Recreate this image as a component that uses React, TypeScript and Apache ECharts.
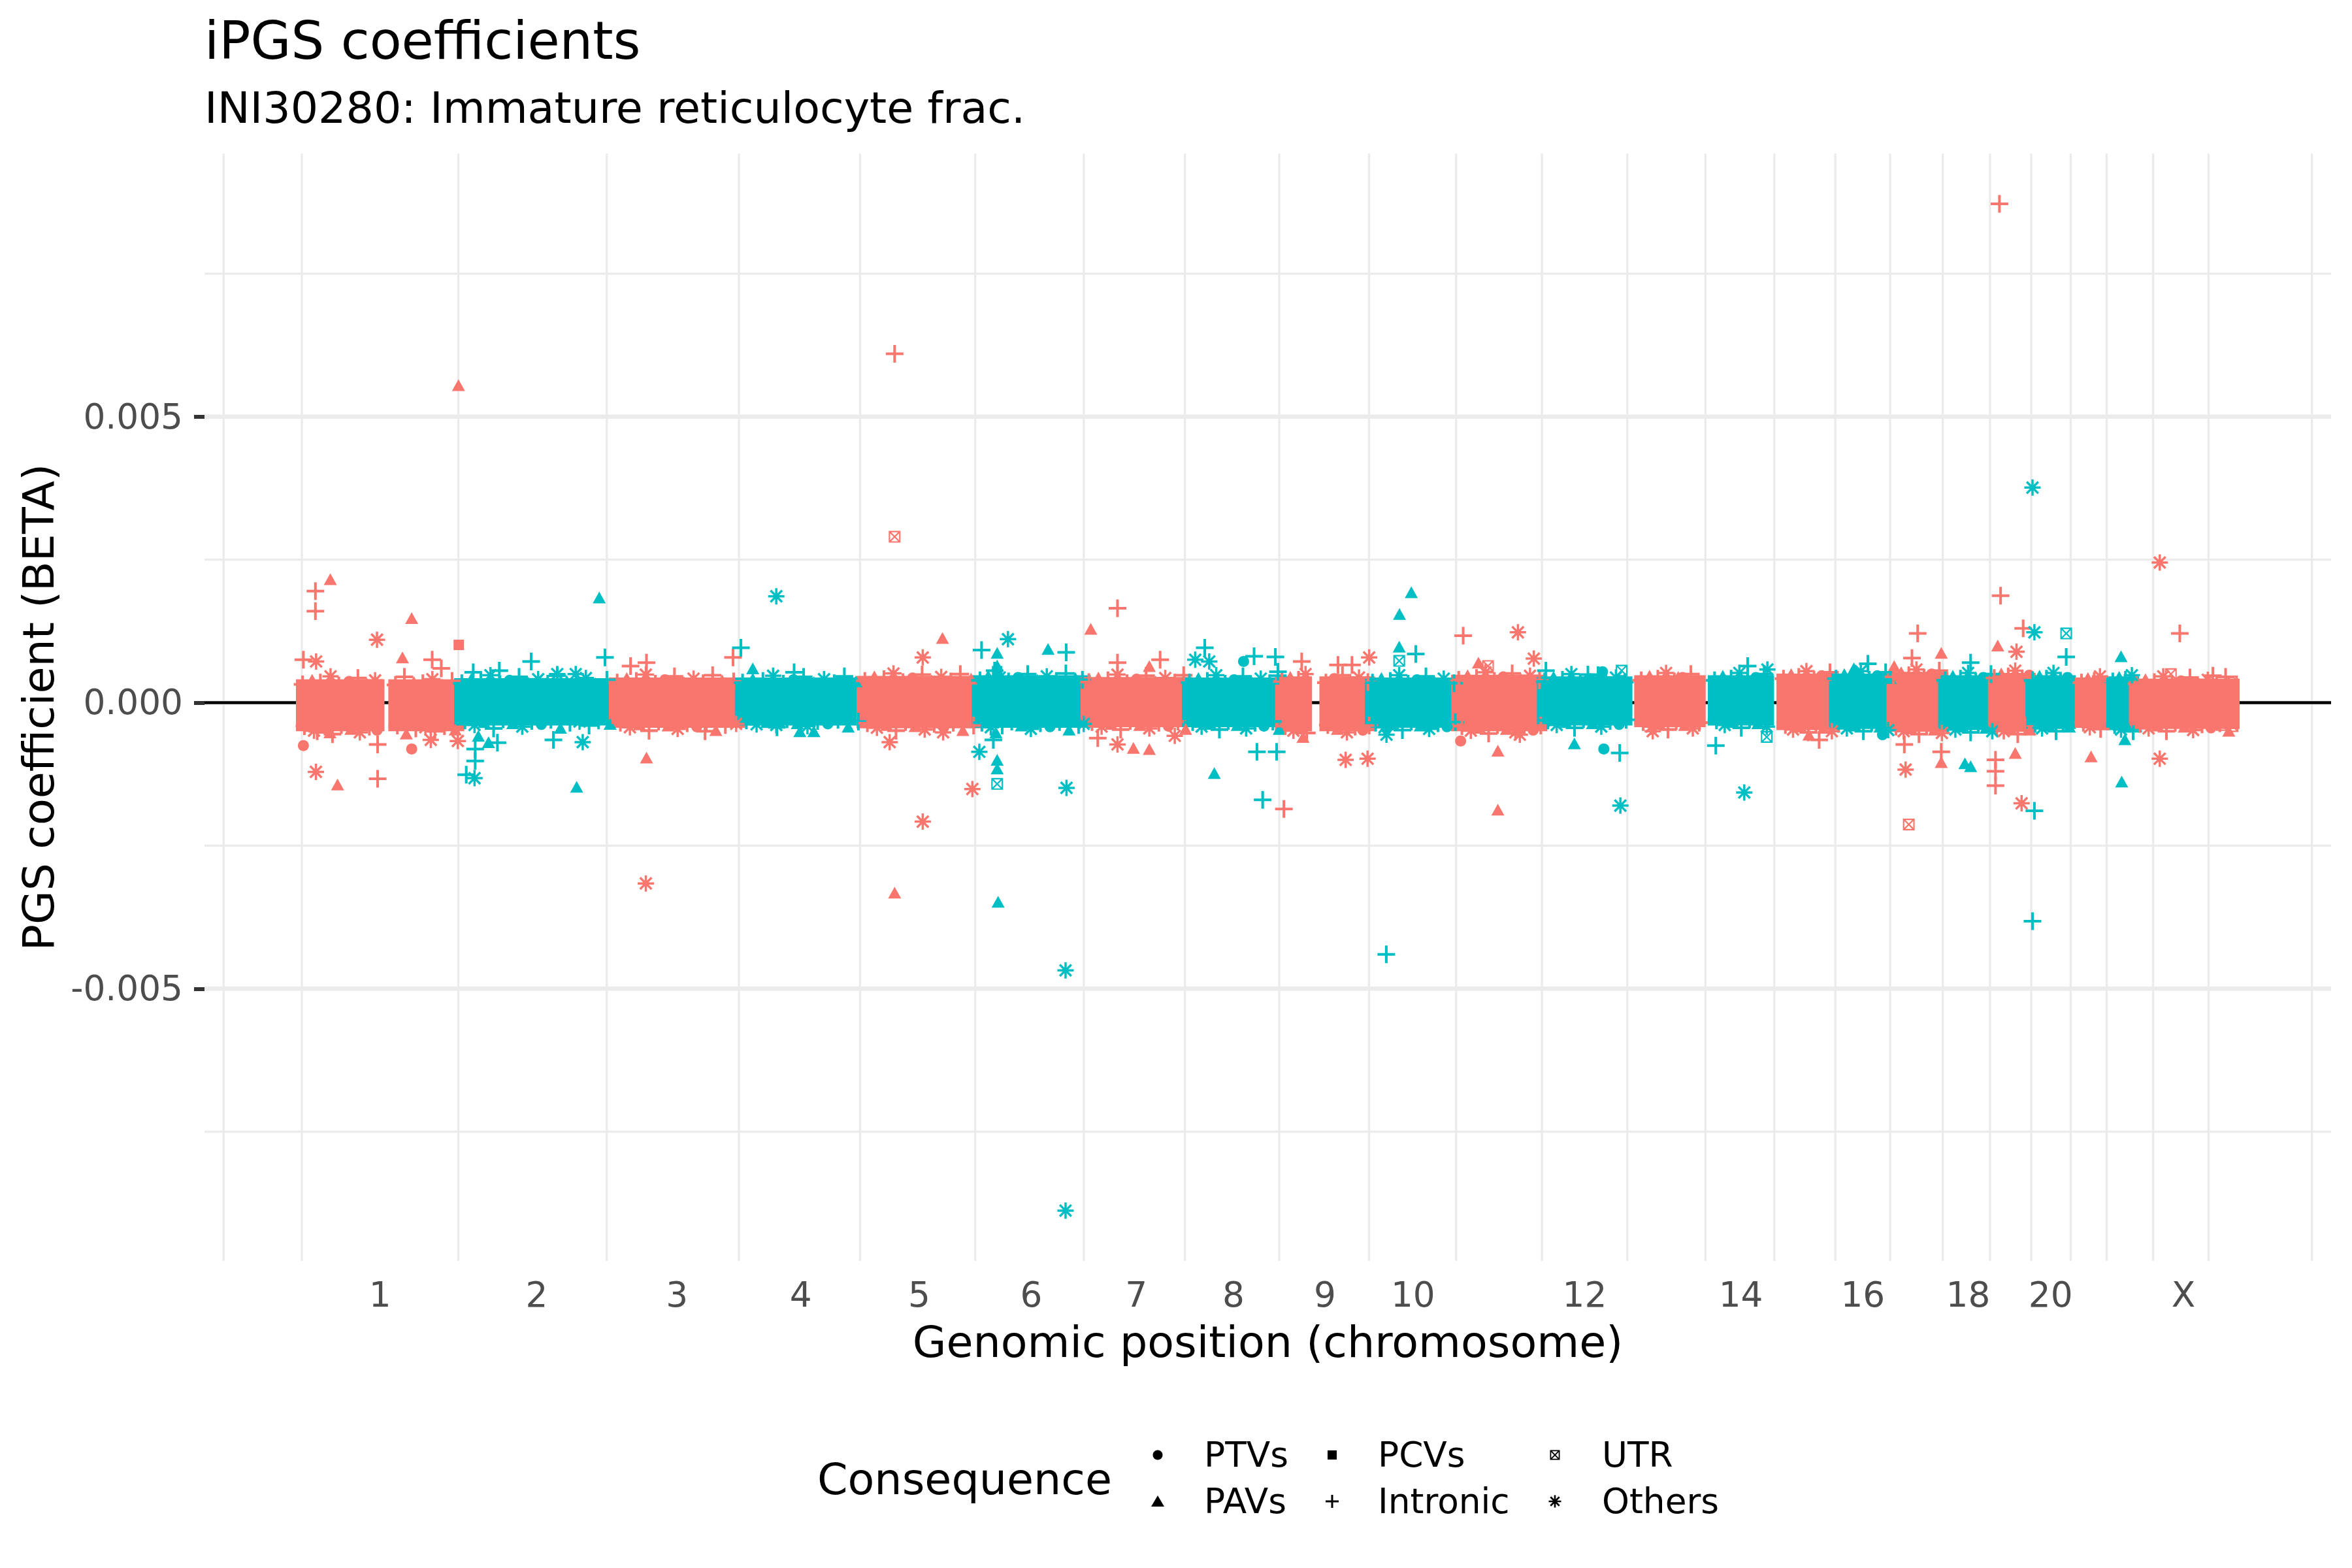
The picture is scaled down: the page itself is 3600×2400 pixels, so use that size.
import React, { useEffect, useRef } from "react";
import * as echarts from "echarts";

const FONT = "DejaVu Sans";
const SALMON = "#F8766D";
const CYAN = "#00BFC4";

const CHROMS = ["1","2","3","4","5","6","7","8","9","10","11","12","13","14","15","16","17","18","19","20","21","22","X","XY"];
const CHROM_CODE = [1,2,3,4,5,6,7,8,9,10,11,12,13,14,15,16,17,18,19,20,21,22,23,25];
const CHROM_LEN_MB = [249.25,243.2,198.02,191.15,180.92,171.12,159.14,146.36,141.21,135.53,135.01,133.85,115.17,107.35,102.53,90.35,81.2,78.08,59.13,63.03,48.13,51.3,155.27,2.7];
const SHOWN_LABELS = ["1","2","3","4","5","6","7","8","9","10","12","14","16","18","20","X"];
const CONSEQUENCES = ["PTVs","PAVs","PCVs","Intronic","UTR","Others"];
const BETA_UNIT = 1e-4;
const Y_BREAKS = [-0.005, 0, 0.005];

// dense core of each chromosome: [chrom#, startMb, endMb, lowBeta, highBeta] (beta in 1e-4)
const CORE_BANDS = [
  [1,0.8,123.5,-3.5,2.6],[1,146,248.9,-3.5,2.6],
  [2,0.1,243,-2.5,2.8],[3,0.1,197.9,-2.9,2.9],[4,0.1,191,-2.5,2.9],
  [5,0.1,180.8,-3.0,3.2],[6,0.2,171,-2.9,3.3],[7,0.1,159,-2.8,3.0],
  [8,0.2,146.2,-2.8,2.9],[9,0.2,42,-3.5,3.1],[9,70,141,-3.5,3.1],
  [10,0.1,135.4,-2.9,2.9],[11,0.2,134.9,-3.5,3.4],[12,0.1,133.7,-2.5,3.1],
  [13,19.1,115,-2.8,3.3],[14,19.5,107.2,-2.5,3.3],[15,20.1,102.4,-3.3,3.6],
  [16,0.1,90.2,-3.1,3.6],[17,0.1,81.1,-3.6,3.9],[18,0.1,78,-3.3,3.3],
  [19,0.3,59,-3.6,3.7],[20,0.1,62.9,-3.1,3.3],[21,14.6,48.1,-2.9,2.9],
  [22,16.1,51.2,-3.3,3.1],[23,0.2,155.2,-3.1,2.7],[24,0.1,2.6,-3.1,2.7]
];

// variants along the ragged edge of each core: [chrom#, posMb, beta(1e-4), consequence]
const EDGE_POINTS = [
  [1,3,3.2,3],[1,18,4.0,1],[1,31,3.5,3],[1,47,4.6,5],[1,60,3.0,3],[1,76,3.7,0],[1,90,4.3,3],[1,104,3.3,1],
  [1,117,3.9,5],[1,149,3.1,3],[1,163,4.5,3],[1,178,3.6,1],[1,192,3.4,3],[1,207,4.1,5],[1,222,3.2,1],[1,238,3.8,3],
  [1,6,-4.1,3],[1,21,-4.9,5],[1,35,-4.4,1],[1,50,-5.5,3],[1,64,-3.9,3],[1,79,-4.6,1],[1,93,-5.2,5],[1,108,-4.2,3],
  [1,120,-4.8,0],[1,152,-4.0,3],[1,166,-5.4,1],[1,181,-4.5,3],[1,196,-4.3,5],[1,211,-5.0,3],[1,226,-4.1,3],[1,243,-4.7,1],
  [2,4,3.4,3],[2,19,4.2,1],[2,34,3.7,3],[2,49,4.8,5],[2,64,3.2,3],[2,79,3.9,0],[2,94,4.5,3],[2,109,3.5,1],
  [2,124,4.1,5],[2,139,3.3,3],[2,154,4.7,3],[2,169,3.8,1],[2,184,3.6,3],[2,199,4.3,5],[2,214,3.4,1],[2,232,4.0,3],
  [2,9,-3.1,3],[2,24,-3.9,5],[2,39,-3.4,1],[2,54,-4.5,3],[2,69,-2.9,3],[2,84,-3.6,1],[2,99,-4.2,5],[2,114,-3.2,3],
  [2,129,-3.8,0],[2,144,-3.0,3],[2,159,-4.4,1],[2,174,-3.5,3],[2,189,-3.3,5],[2,204,-4.0,3],[2,219,-3.1,3],[2,237,-3.7,1],
  [3,5,3.5,3],[3,20,4.3,1],[3,35,3.8,3],[3,50,4.9,5],[3,65,3.3,3],[3,80,4.0,0],[3,95,4.6,3],[3,110,3.6,1],
  [3,125,4.2,5],[3,140,3.4,3],[3,155,4.8,3],[3,170,3.9,1],[3,188,3.7,3],
  [3,10,-3.5,3],[3,25,-4.3,5],[3,40,-3.8,1],[3,55,-4.9,3],[3,70,-3.3,3],[3,85,-4.0,1],[3,100,-4.6,5],[3,115,-3.6,3],
  [3,130,-4.2,0],[3,145,-3.4,3],[3,160,-4.8,1],[3,175,-3.9,3],[3,192,-3.7,5],
  [4,4,3.5,3],[4,20,4.2,1],[4,36,3.8,3],[4,52,4.7,5],[4,68,3.3,3],[4,84,4.0,0],[4,100,4.5,3],[4,116,3.6,1],
  [4,132,4.1,5],[4,148,3.4,3],[4,164,4.6,3],[4,182,3.7,1],
  [4,10,-3.1,3],[4,26,-3.8,5],[4,42,-3.4,1],[4,58,-4.3,3],[4,74,-2.9,3],[4,90,-3.6,1],[4,106,-4.1,5],[4,122,-3.2,3],
  [4,138,-3.7,0],[4,154,-3.0,3],[4,170,-4.2,1],[4,186,-3.3,3],
  [5,5,3.8,3],[5,20,4.6,1],[5,35,4.1,3],[5,50,5.1,5],[5,65,3.6,3],[5,80,4.3,0],[5,95,4.9,3],[5,110,3.9,1],
  [5,125,4.5,5],[5,140,3.7,3],[5,155,5.0,3],[5,172,4.2,1],
  [5,9,-3.6,3],[5,24,-4.4,5],[5,39,-3.9,1],[5,54,-4.9,3],[5,69,-3.4,3],[5,84,-4.1,1],[5,99,-4.7,5],[5,114,-3.7,3],
  [5,129,-4.3,0],[5,144,-3.5,3],[5,159,-4.8,1],[5,176,-4.0,3],
  [6,5,3.9,3],[6,18,4.7,1],[6,28,5.6,3],[6,36,4.4,5],[6,50,3.7,3],[6,65,4.4,0],[6,80,5.0,3],[6,95,4.0,1],
  [6,110,4.6,5],[6,125,3.8,3],[6,140,5.1,3],[6,155,4.3,1],[6,166,4.0,3],
  [6,8,-3.5,3],[6,22,-4.3,5],[6,30,-5.2,1],[6,40,-4.0,3],[6,55,-3.3,3],[6,70,-4.0,1],[6,85,-4.6,5],[6,100,-3.6,3],
  [6,115,-4.2,0],[6,130,-3.4,3],[6,145,-4.7,1],[6,160,-3.9,3],[6,168,-3.7,5],
  [7,5,3.6,3],[7,20,4.4,1],[7,35,3.9,3],[7,50,4.9,5],[7,65,3.4,3],[7,80,4.1,0],[7,95,4.7,3],[7,110,3.7,1],
  [7,125,4.3,5],[7,140,3.5,3],[7,154,4.8,3],
  [7,10,-3.4,3],[7,25,-4.2,5],[7,40,-3.7,1],[7,55,-4.7,3],[7,70,-3.2,3],[7,85,-3.9,1],[7,100,-4.5,5],[7,115,-3.5,3],
  [7,130,-4.1,0],[7,145,-3.3,3],[7,157,-4.6,1],
  [8,4,3.5,3],[8,18,4.3,1],[8,32,3.8,3],[8,46,4.8,5],[8,60,3.3,3],[8,74,4.0,0],[8,88,4.6,3],[8,102,3.6,1],
  [8,116,4.2,5],[8,130,3.4,3],[8,143,4.7,3],
  [8,9,-3.4,3],[8,23,-4.2,5],[8,37,-3.7,1],[8,51,-4.7,3],[8,65,-3.2,3],[8,79,-3.9,1],[8,93,-4.5,5],[8,107,-3.5,3],
  [8,121,-4.1,0],[8,135,-3.3,3],[8,145,-4.6,1],
  [9,3,3.7,3],[9,16,4.5,1],[9,29,4.0,3],[9,40,5.0,5],[9,72,3.5,3],[9,85,4.2,0],[9,98,4.8,3],[9,111,3.8,1],
  [9,124,4.4,5],[9,138,3.6,3],
  [9,8,-4.1,3],[9,21,-4.9,5],[9,34,-4.4,1],[9,42,-5.3,3],[9,75,-3.9,3],[9,90,-4.6,1],[9,105,-5.2,5],[9,118,-4.2,3],
  [9,130,-4.8,0],[9,140,-4.0,3],
  [10,4,3.5,3],[10,18,4.3,1],[10,32,3.8,3],[10,46,4.8,5],[10,60,3.3,3],[10,74,4.0,0],[10,88,4.6,3],[10,102,3.6,1],
  [10,116,4.2,5],[10,132,3.4,3],
  [10,9,-3.5,3],[10,23,-4.3,5],[10,37,-3.8,1],[10,51,-4.8,3],[10,65,-3.3,3],[10,79,-4.0,1],[10,93,-4.6,5],[10,107,-3.6,3],
  [10,121,-4.2,0],[10,134,-3.4,3],
  [11,4,4.0,3],[11,18,4.8,1],[11,32,4.3,3],[11,46,5.3,5],[11,60,3.8,3],[11,74,4.5,0],[11,88,5.1,3],[11,102,4.1,1],
  [11,116,4.7,5],[11,131,3.9,3],
  [11,9,-4.1,3],[11,23,-4.9,5],[11,37,-4.4,1],[11,51,-5.4,3],[11,65,-3.9,3],[11,79,-4.6,1],[11,93,-5.2,5],[11,107,-4.2,3],
  [11,121,-4.8,0],[11,133,-4.0,3],
  [12,4,3.7,3],[12,18,4.5,1],[12,32,4.0,3],[12,46,5.0,5],[12,60,3.5,3],[12,74,4.2,0],[12,88,4.8,3],[12,102,3.8,1],
  [12,116,4.4,5],[12,130,3.6,3],
  [12,9,-3.1,3],[12,23,-3.9,5],[12,37,-3.4,1],[12,51,-4.4,3],[12,65,-2.9,3],[12,79,-3.6,1],[12,93,-4.2,5],[12,107,-3.2,3],
  [12,121,-3.8,0],[12,132,-3.0,3],
  [13,22,3.9,3],[13,35,4.7,1],[13,48,4.2,3],[13,61,5.2,5],[13,74,3.7,3],[13,87,4.4,0],[13,100,5.0,3],[13,112,4.0,1],
  [13,25,-3.4,3],[13,38,-4.2,5],[13,51,-3.7,1],[13,64,-4.7,3],[13,77,-3.2,3],[13,90,-3.9,1],[13,103,-4.5,5],[13,113,-3.5,3],
  [14,22,3.9,3],[14,35,4.7,1],[14,48,4.2,3],[14,61,5.2,5],[14,74,3.7,3],[14,87,4.4,0],[14,100,5.0,3],
  [14,25,-3.1,3],[14,38,-3.9,5],[14,51,-3.4,1],[14,64,-4.4,3],[14,77,-2.9,3],[14,90,-3.6,1],[14,104,-4.2,5],
  [15,23,4.2,3],[15,35,5.0,1],[15,47,4.5,3],[15,59,5.5,5],[15,71,4.0,3],[15,83,4.7,0],[15,96,5.3,3],
  [15,26,-3.9,3],[15,38,-4.7,5],[15,50,-4.2,1],[15,62,-5.2,3],[15,74,-3.7,3],[15,86,-4.4,1],[15,99,-5.0,5],
  [16,3,4.2,3],[16,16,5.0,1],[16,29,4.5,3],[16,42,5.5,5],[16,55,4.0,3],[16,68,4.7,0],[16,81,5.3,3],[16,88,4.3,1],
  [16,7,-3.7,3],[16,20,-4.5,5],[16,33,-4.0,1],[16,46,-5.0,3],[16,59,-3.5,3],[16,72,-4.2,1],[16,85,-4.8,5],
  [17,3,4.5,3],[17,15,5.3,1],[17,27,4.8,3],[17,39,5.8,5],[17,51,4.3,3],[17,63,5.0,0],[17,75,5.6,3],
  [17,7,-4.2,3],[17,19,-5.0,5],[17,31,-4.5,1],[17,43,-5.5,3],[17,55,-4.0,3],[17,67,-4.7,1],[17,79,-5.3,5],
  [18,3,3.9,3],[18,15,4.7,1],[18,27,4.2,3],[18,39,5.2,5],[18,51,3.7,3],[18,63,4.4,0],[18,75,5.0,3],
  [18,7,-3.9,3],[18,19,-4.7,5],[18,31,-4.2,1],[18,43,-5.2,3],[18,55,-3.7,3],[18,67,-4.4,1],[18,77,-5.0,5],
  [19,2,4.3,3],[19,13,5.1,1],[19,24,4.6,3],[19,35,5.6,5],[19,46,4.1,3],[19,57,4.8,0],
  [19,6,-4.2,3],[19,17,-5.0,5],[19,28,-4.5,1],[19,39,-5.5,3],[19,50,-4.0,3],[19,58,-4.7,1],
  [20,3,3.9,3],[20,14,4.7,1],[20,25,4.2,3],[20,36,5.2,5],[20,47,3.7,3],[20,58,4.4,0],
  [20,7,-3.7,3],[20,18,-4.5,5],[20,29,-4.0,1],[20,40,-5.0,3],[20,51,-3.5,3],[20,61,-4.2,1],
  [21,17,3.5,3],[21,27,4.3,1],[21,37,3.8,3],[21,46,4.6,5],
  [21,20,-3.5,3],[21,30,-4.3,5],[21,40,-3.8,1],[21,47,-4.6,3],
  [22,18,3.7,3],[22,28,4.5,1],[22,38,4.0,3],[22,48,4.8,5],
  [22,21,-3.9,3],[22,31,-4.7,5],[22,41,-4.2,1],[22,50,-5.0,3],
  [23,4,3.3,3],[23,18,4.1,1],[23,32,3.6,3],[23,46,4.6,5],[23,60,3.1,3],[23,74,3.8,0],[23,88,4.4,3],[23,102,3.4,1],
  [23,116,4.0,5],[23,130,3.2,3],[23,144,4.5,3],[23,154,3.7,4],
  [23,9,-3.7,3],[23,23,-4.5,5],[23,37,-4.0,1],[23,51,-5.0,3],[23,65,-3.5,3],[23,79,-4.2,1],[23,93,-4.8,5],[23,107,-3.8,3],
  [23,121,-4.4,0],[23,135,-3.6,3],[23,149,-4.9,1],[23,155,-4.1,4]
];

// isolated variants: [chrom#, posMb, beta(1e-4), consequence]
const OUTLIERS = [
  [1,46.6,21.6,1],[1,23.2,19.5,3],[1,23.2,16.0,3],[1,174.5,14.8,1],[1,120,11.0,5],[1,248.5,10.1,2],
  [1,248,55.5,1],[1,160,7.9,1],[1,4.3,7.5,3],[1,206.7,7.5,3],[1,221,6.0,3],[1,24.3,7.2,5],
  [1,4.3,-7.5,0],[1,174.5,-8.1,0],[1,24,-12.1,5],[1,58,-14.3,1],[1,121,-13.3,3],[1,121,-7.3,3],
  [1,26,-5.0,3],[1,46,-5.2,1],[1,204.5,-6.5,5],[1,247,-6.7,5],
  [2,220,18.4,1],[2,229,7.9,3],[2,113,7.2,3],[2,63,5.6,3],[2,22,5.3,3],[2,154,5.0,5],[2,183,5.0,5],
  [2,25,-8.1,3],[2,25,-10.2,3],[2,11,-12.6,3],[2,24,-13.2,5],[2,30,-5.8,1],[2,46,-6.9,1],
  [2,60,-7.0,3],[2,148,-6.5,3],[2,194,-6.9,5],[2,184.5,-14.7,1],
  [3,26,6.4,3],[3,51,7.0,3],[3,187,7.9,3],[3,50,-31.6,5],[3,51,-9.6,1],[3,143,-5.0,3],
  [4,57,18.6,5],[4,1.4,9.6,3],[4,20,6.0,1],[4,85,5.3,3],[4,94,-5.0,1],[4,116,-5.0,1],[4,57,-3.9,5],
  [5,51.8,61.0,3],[5,51.8,29.0,4],[5,51.8,-33.2,1],[5,127,11.3,1],[5,96,7.9,5],[5,96,-20.8,5],
  [5,44,-6.9,5],[5,128,-5.2,5],[5,174,-15.1,5],
  [6,49,11.1,5],[6,112,9.4,1],[6,7.5,9.2,3],[6,32,8.7,1],[6,32,6.5,1],[6,32,5.5,2],
  [6,32,-14.2,4],[6,32,-11.5,1],[6,32,-10.0,1],[6,4,-8.6,5],[6,26,-6.5,3],[6,141,-14.9,5],
  [6,33.5,-34.8,1],[6,139.5,-46.8,5],[6,139.5,-88.8,5],[6,140.5,8.8,3],
  [7,50,16.5,3],[7,8,12.9,1],[7,50,7.0,3],[7,117,7.5,3],[7,100,6.4,1],[7,19,-6.2,3],
  [7,50,-7.3,5],[7,75,-7.9,1],[7,100,-8.1,1],[7,140,-5.8,5],
  [8,13,7.5,5],[8,35,7.2,5],[8,89,7.2,0],[8,105.5,8.1,3],[8,143,5.4,3],[8,28,9.6,3],[8,139,8.0,3],
  [8,110,-8.6,3],[8,43,-12.3,1],[8,119,-17.0,3],[8,141,-8.6,3],
  [9,34,7.2,3],[9,91,6.6,3],[9,113,6.6,3],[9,140,7.9,5],[9,6,-18.6,3],[9,103,-10.0,5],
  [9,137.5,-9.8,5],[9,36,-6.0,1],
  [10,65,19.3,1],[10,46.4,15.5,1],[10,46,9.8,1],[10,72,8.5,3],[10,46,7.3,4],[10,26,-5.6,5],[10,25.7,-44.0,3],
  [11,11,11.7,3],[11,97,12.3,5],[11,122,7.7,5],[11,35,7.0,1],[11,50,6.4,4],[11,65.5,-8.4,1],
  [11,65.5,-18.7,1],[11,7,-6.7,0],[11,100,-5.6,5],
  [12,95,5.4,0],[12,125,5.6,4],[12,72,4.9,3],[12,6,5.6,3],[12,50.7,-7.1,1],[12,97,-8.1,0],
  [12,122,-8.8,3],[12,123,-18.0,5],
  [13,40,-5.0,5],[13,80,4.5,1],
  [14,74,6.4,3],[14,105,5.8,5],[14,68.7,-15.7,5],[14,24,-7.5,3],[14,104,-6.0,4],
  [15,63,-5.6,1],[15,79,-6.5,3],
  [16,31,6.0,1],[16,53,6.8,3],[16,76,-5.6,0],
  [17,41,12.1,3],[17,32,7.8,3],[17,78,8.7,1],[17,4,6.4,1],[17,22,-11.7,5],[17,20,-7.3,3],
  [17,27,-21.3,4],[17,78,-10.4,1],[17,78,-8.6,3],
  [18,43,7.0,3],[18,43,-11.1,1],[18,34,-10.6,1],
  [19,10.2,87.2,3],[19,7.5,10.0,1],[19,12,18.7,3],[19,47.5,13.0,3],[19,37,8.9,5],[19,4,-14.5,3],
  [19,4,-12.0,3],[19,4,-10.0,3],[19,35,-8.8,1],[19,45,-17.6,5],
  [20,3,37.6,5],[20,3,-38.2,3],[20,6,-18.9,3],[20,6,12.3,5],[20,56,12.1,4],[20,56,8.0,3],
  [21,32,-9.4,1],
  [22,31,8.1,1],[22,32,-13.8,1],[22,37,-6.4,1],
  [23,40.5,24.5,5],[23,40.5,-9.8,5],[23,72,12.1,3],[23,58,5.0,4],[23,124,4.7,3],[23,138,-3.9,4]
];

// ---- symbol geometry (style) ----
function bar(angle: number, L: number, W: number): string {
  const c = Math.cos(angle), s = Math.sin(angle);
  const pts = [[-L, -W], [L, -W], [L, W], [-L, W]].map(([x, y]) => [x * c - y * s, x * s + y * c]);
  return "M" + pts.map((p) => p[0].toFixed(3) + "," + p[1].toFixed(3)).join("L") + "Z";
}
const PLUS_D = bar(0, 10, 1.5) + bar(Math.PI / 2, 10, 1.5);
const STAR_D = bar(0, 10, 1.4) + bar(Math.PI / 2, 10, 1.4) + bar(Math.PI / 4, 10, 1.4) + bar(-Math.PI / 4, 10, 1.4);
const UTR_D = "M-10,-10L10,-10L10,10L-10,10Z" + "M-7.6,-7.6L-7.6,7.6L7.6,7.6L7.6,-7.6Z" + bar(Math.PI / 4, 10.5, 1.25) + bar(-Math.PI / 4, 10.5, 1.25);

echarts.graphic.registerShape("plusKey", echarts.graphic.extendPath(PLUS_D, {}));
echarts.graphic.registerShape("starKey", echarts.graphic.extendPath(STAR_D, {}));
echarts.graphic.registerShape("utrKey", echarts.graphic.extendPath(UTR_D, {}));

const SYMBOLS = ["circle", "triangle", "rect", "path://" + PLUS_D, "path://" + UTR_D, "path://" + STAR_D];
const SYMBOL_SIZES: any[] = [17, [20, 18], 16, 27, 18, 25];
// half extent (px) of the stacked symbols around the core's point centres
const CORE_PAD_X = 8;
const CORE_PAD_Y = 13;

// ---- derived positions ----
const OFFSETS: number[] = [];
CHROM_LEN_MB.reduce((acc, len, i) => { OFFSETS[i] = acc; return acc + len; }, 0);
const colorOf = (ci: number) => (CHROM_CODE[ci] % 2 === 1 ? SALMON : CYAN);

const CENTERS = CHROMS.map((_, i) => {
  const bands = CORE_BANDS.filter((b) => b[0] - 1 === i);
  const lo = Math.min(...bands.map((b) => b[1]));
  const hi = Math.max(...bands.map((b) => b[2]));
  return OFFSETS[i] + (lo + hi) / 2;
});

const ALL_POINTS = [...EDGE_POINTS, ...OUTLIERS];
const xs = [
  ...CORE_BANDS.map((b) => OFFSETS[b[0] - 1] + b[1]),
  ...CORE_BANDS.map((b) => OFFSETS[b[0] - 1] + b[2]),
  ...ALL_POINTS.map((p) => OFFSETS[p[0] - 1] + p[1]),
];
const ys = ALL_POINTS.map((p) => p[2] * BETA_UNIT);
const xLo = Math.min(...xs), xHi = Math.max(...xs);
const yLo = Math.min(...ys), yHi = Math.max(...ys);
const X_MIN = xLo - (xHi - xLo) * 0.05, X_MAX = xHi + (xHi - xLo) * 0.05;
const Y_MIN = yLo - (yHi - yLo) * 0.05, Y_MAX = yHi + (yHi - yLo) * 0.05;

function minorBreaks(b: number[], lo: number, hi: number): number[] {
  const bd = b[1] - b[0];
  let e = b.slice();
  if (lo < e[0]) e = [e[0] - bd, ...e];
  if (hi > e[e.length - 1]) e = [...e, e[e.length - 1] + bd];
  const out: number[] = [];
  for (let i = 0; i < e.length - 1; i++) out.push(e[i], (e[i] + e[i + 1]) / 2);
  out.push(e[e.length - 1]);
  return out.filter((v) => v >= lo && v <= hi && !b.some((m) => Math.abs(m - v) < 1e-9));
}
const X_MINOR = minorBreaks(CENTERS, X_MIN, X_MAX);
const Y_MINOR = minorBreaks(Y_BREAKS, Y_MIN, Y_MAX);

const GRID_LINES = [
  ...X_MINOR.map((v) => [0, v, 0]),
  ...Y_MINOR.map((v) => [1, v, 0]),
  ...Y_BREAKS.map((v) => [1, v, 1]),
  [1, 0, 2],
];

const SHOWN_CENTERS = SHOWN_LABELS.map((l) => CENTERS[CHROMS.indexOf(l)]);

const GRID = { left: 313, right: 32, top: 235, bottom: 470 };

function buildLegend(): any[] {
  const els: any[] = [];
  const cols = [1772, 2039, 2380];
  const txt = [1843, 2109, 2452];
  const rows = [2227, 2298];
  els.push({
    type: "text", x: 1251, y: 2264,
    style: { text: "Consequence", fontSize: 66.7, fontFamily: FONT, fill: "#000", align: "left", verticalAlign: "middle", textAlign: "left", textVerticalAlign: "middle" },
  });
  CONSEQUENCES.forEach((name, k) => {
    const col = Math.floor(k / 2), row = k % 2;
    const cx = cols[col], cy = rows[row];
    let icon: any;
    if (k === 0) icon = { type: "circle", shape: { cx, cy, r: 7.5 } };
    else if (k === 1) icon = { type: "polygon", shape: { points: [[cx, cy - 9], [cx + 10, cy + 8], [cx - 10, cy + 8]] } };
    else if (k === 2) icon = { type: "rect", shape: { x: cx - 7, y: cy - 7, width: 14, height: 14 } };
    else {
      const s = k === 3 ? 20 : k === 4 ? 15 : 19;
      icon = { type: k === 3 ? "plusKey" : k === 4 ? "utrKey" : "starKey", x: cx, y: cy, scaleX: s / 20, scaleY: s / 20 };
    }
    icon.style = { fill: "#000" };
    els.push(icon);
    els.push({
      type: "text", x: txt[col], y: cy,
      style: { text: name, fontSize: 53.3, fontFamily: FONT, fill: "#000", align: "left", verticalAlign: "middle", textAlign: "left", textVerticalAlign: "middle" },
    });
  });
  return els;
}

export default function App() {
  const ref = useRef<HTMLDivElement>(null);
  useEffect(() => {
    if (!ref.current) return;
    const chart = echarts.init(ref.current, null, { renderer: "svg" });
    const scatterSeries = CONSEQUENCES.map((name, k) => ({
      type: "scatter",
      name,
      z: 4,
      silent: true,
      symbol: SYMBOLS[k],
      symbolSize: SYMBOL_SIZES[k],
      data: ALL_POINTS.filter((p) => p[3] === k).map((p) => [OFFSETS[p[0] - 1] + p[1], p[2] * BETA_UNIT, p[0] - 1]),
      itemStyle: { color: (params: any) => colorOf(params.data[2]), opacity: 1, borderWidth: 0 },
      emphasis: { disabled: true },
    }));
    const option: any = {
      animation: false,
      backgroundColor: "#ffffff",
      textStyle: { fontFamily: FONT },
      title: [
        { text: "iPGS coefficients", left: 313, top: 22, padding: 0, textStyle: { fontSize: 80, lineHeight: 80, fontWeight: "normal", color: "#000", fontFamily: FONT } },
        { text: "INI30280: Immature reticulocyte frac.", left: 313, top: 131.6, padding: 0, textStyle: { fontSize: 66.7, lineHeight: 66.7, fontWeight: "normal", color: "#000", fontFamily: FONT } },
      ],
      grid: GRID,
      xAxis: {
        type: "value", min: X_MIN, max: X_MAX,
        axisLine: { show: false, onZero: false },
        axisTick: { show: false },
        splitLine: { show: false },
        axisLabel: {
          customValues: SHOWN_CENTERS,
          formatter: (v: number) => {
            let best = 0, bd = Infinity;
            CENTERS.forEach((c, i) => { const d = Math.abs(c - v); if (d < bd) { bd = d; best = i; } });
            return CHROMS[best];
          },
          fontSize: 53.3, lineHeight: 53.3, color: "#4D4D4D", fontFamily: FONT, margin: 25, showMinLabel: true, showMaxLabel: true,
        },
      },
      yAxis: {
        type: "value", min: Y_MIN, max: Y_MAX,
        axisLine: { show: false, onZero: false },
        axisTick: { show: true, customValues: Y_BREAKS, length: 16, lineStyle: { color: "#333333", width: 6 } },
        splitLine: { show: false },
        axisLabel: {
          customValues: Y_BREAKS,
          formatter: (v: number) => v.toFixed(3),
          fontSize: 53.3, color: "#4D4D4D", fontFamily: FONT, margin: 33,
        },
      },
      series: [
        {
          type: "custom", z: 1, silent: true, clip: false,
          data: GRID_LINES,
          renderItem: (params: any, api: any) => {
            const orient = api.value(0), v = api.value(1), kind = api.value(2);
            const cs = params.coordSys;
            const style = {
              stroke: kind === 2 ? "#000000" : "#EBEBEB",
              lineWidth: kind === 0 ? 3.3 : kind === 1 ? 6.5 : 4.5,
            };
            if (orient === 0) {
              const px = api.coord([v, 0])[0];
              return { type: "line", shape: { x1: px, y1: cs.y, x2: px, y2: cs.y + cs.height }, style };
            }
            const py = api.coord([X_MIN, v])[1];
            return { type: "line", shape: { x1: cs.x, y1: py, x2: cs.x + cs.width, y2: py }, style };
          },
        },
        {
          type: "custom", z: 3, silent: true,
          encode: { x: [0, 1], y: [2, 3] },
          data: CORE_BANDS.map((b) => [OFFSETS[b[0] - 1] + b[1], OFFSETS[b[0] - 1] + b[2], b[3] * BETA_UNIT, b[4] * BETA_UNIT, b[0] - 1]),
          renderItem: (params: any, api: any) => {
            const p0 = api.coord([api.value(0), api.value(3)]);
            const p1 = api.coord([api.value(1), api.value(2)]);
            return {
              type: "rect",
              shape: {
                x: p0[0] - CORE_PAD_X, y: p0[1] - CORE_PAD_Y,
                width: p1[0] - p0[0] + 2 * CORE_PAD_X, height: p1[1] - p0[1] + 2 * CORE_PAD_Y,
              },
              style: { fill: colorOf(api.value(4)) },
            };
          },
        },
        ...scatterSeries,
      ],
      graphic: {
        elements: [
          {
            type: "text", x: 59, y: (GRID.top + 2400 - GRID.bottom) / 2, rotation: Math.PI / 2,
            style: { text: "PGS coefficient (BETA)", fontSize: 66.7, fontFamily: FONT, fill: "#000", align: "center", verticalAlign: "middle", textAlign: "center", textVerticalAlign: "middle" },
          },
          {
            type: "text", x: (GRID.left + 3600 - GRID.right) / 2, y: 2054,
            style: { text: "Genomic position (chromosome)", fontSize: 66.7, fontFamily: FONT, fill: "#000", align: "center", verticalAlign: "middle", textAlign: "center", textVerticalAlign: "middle" },
          },
          ...buildLegend(),
        ],
      },
    };
    chart.setOption(option);
    return () => chart.dispose();
  }, []);
  return <div ref={ref} style={{ position: "fixed", left: 0, top: 0, width: 3600, height: 2400, background: "#fff" }} />;
}
